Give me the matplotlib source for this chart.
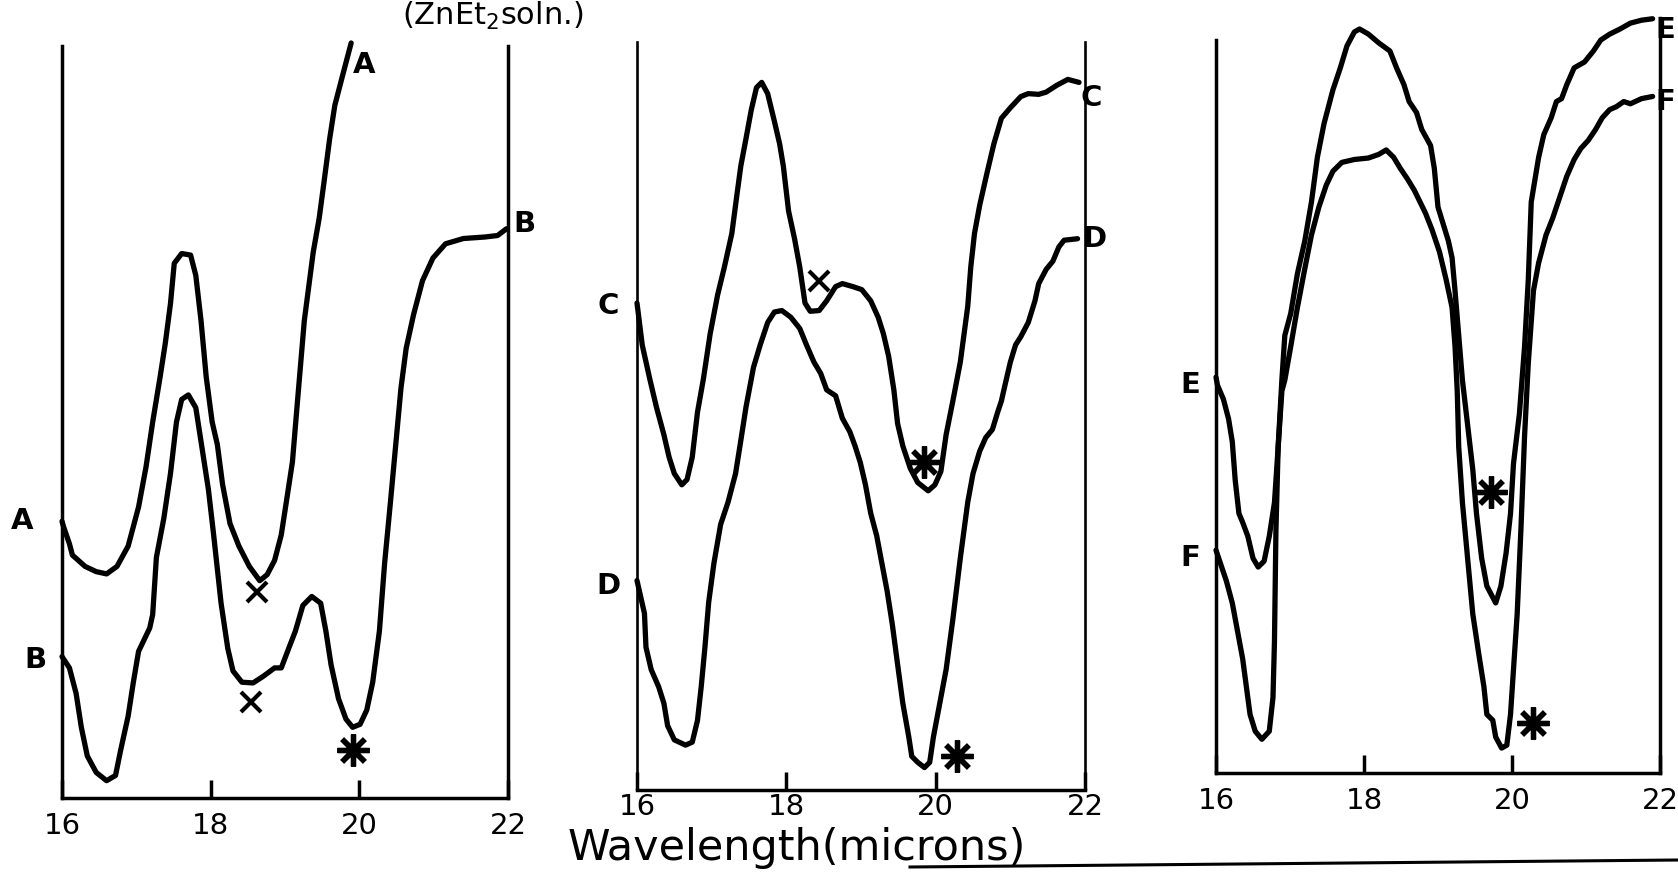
import matplotlib
matplotlib.use("Agg")
import matplotlib.pyplot as plt

# ---------------- data (wavelength in microns, transmission in arbitrary units 0-100) -------------
a_x = [16.0, 16.02, 16.10, 16.14, 16.31, 16.46, 16.60, 16.74, 16.89, 17.03, 17.13, 17.22, 17.32, 17.39,
       17.46, 17.51, 17.61, 17.73, 17.80, 17.87, 17.94, 18.02, 18.09, 18.16, 18.26, 18.38, 18.52, 18.66,
       18.76, 18.86, 18.95, 19.02, 19.10, 19.17, 19.26, 19.38, 19.46, 19.53, 19.60, 19.67, 19.77, 19.89]
a_y = [36.8, 36.1, 33.8, 32.3, 30.8, 30.1, 29.8, 30.8, 33.5, 38.7, 44.0, 50.0, 56.0, 60.5,
       65.8, 71.1, 72.4, 72.2, 69.5, 63.5, 56.0, 50.0, 47.0, 41.7, 36.5, 33.5, 30.8, 28.9,
       29.7, 31.6, 35.0, 39.5, 44.7, 53.0, 63.5, 72.6, 77.1, 82.3, 87.6, 92.1, 95.9, 100.4]

b_x = [16.0, 16.10, 16.19, 16.26, 16.34, 16.46, 16.60, 16.72, 16.79, 16.89, 16.96, 17.03, 17.18, 17.22,
       17.27, 17.37, 17.46, 17.54, 17.61, 17.70, 17.80, 17.90, 17.97, 18.04, 18.14, 18.23, 18.30, 18.42,
       18.57, 18.71, 18.86, 18.95, 19.05, 19.14, 19.24, 19.36, 19.48, 19.55, 19.62, 19.72, 19.82, 19.91,
       20.01, 20.10, 20.18, 20.27, 20.34, 20.42, 20.49, 20.56, 20.63, 20.73, 20.85, 20.99, 21.16, 21.40,
       21.69, 21.86, 21.98]
b_y = [18.8, 17.3, 13.9, 9.4, 5.6, 3.4, 2.3, 3.0, 6.4, 10.9, 15.4, 19.5, 22.6, 24.4,
       32.0, 37.2, 43.2, 50.0, 53.0, 53.6, 51.9, 45.5, 41.0, 35.0, 25.9, 19.9, 16.9, 15.4,
       15.3, 16.2, 17.3, 17.3, 19.9, 22.2, 25.6, 26.8, 25.9, 22.2, 17.7, 13.2, 10.5, 9.4,
       9.8, 11.7, 15.4, 22.2, 31.2, 39.5, 47.0, 54.5, 59.8, 64.3, 68.8, 71.8, 73.7, 74.4,
       74.6, 74.8, 75.7]

c_x = [16.0, 16.07, 16.17, 16.26, 16.36, 16.43, 16.50, 16.60, 16.67, 16.74, 16.81, 16.89, 16.98, 17.08,
       17.17, 17.27, 17.34, 17.39, 17.46, 17.53, 17.60, 17.67, 17.75, 17.84, 17.91, 17.96, 18.03, 18.11,
       18.18, 18.25, 18.32, 18.44, 18.54, 18.66, 18.75, 18.89, 19.01, 19.13, 19.23, 19.30, 19.37, 19.44,
       19.49, 19.56, 19.66, 19.76, 19.90, 19.99, 20.07, 20.14, 20.23, 20.33, 20.43, 20.47, 20.52, 20.59,
       20.69, 20.78, 20.88, 21.00, 21.14, 21.24, 21.38, 21.48, 21.62, 21.77, 21.92]
c_y = [65.1, 59.5, 55.0, 51.2, 47.5, 44.5, 42.3, 40.8, 41.5, 44.5, 50.5, 55.0, 61.0, 66.2,
       69.9, 74.4, 79.7, 83.4, 87.1, 90.9, 93.9, 94.6, 93.1, 89.4, 86.4, 83.4, 77.4, 73.7,
       69.9, 65.1, 64.0, 64.1, 65.4, 67.3, 67.7, 67.3, 66.9, 65.4, 63.2, 61.0, 58.0, 53.5,
       49.0, 46.0, 43.0, 41.1, 40.0, 40.8, 42.6, 47.5, 52.0, 57.2, 64.7, 69.9, 74.4, 78.2,
       82.6, 86.4, 89.8, 91.2, 92.7, 93.1, 93.0, 93.3, 94.2, 95.0, 94.6]

d_x = [16.0, 16.05, 16.10, 16.12, 16.19, 16.29, 16.36, 16.41, 16.50, 16.65, 16.74, 16.81, 16.86, 16.91,
       16.96, 17.03, 17.12, 17.22, 17.32, 17.39, 17.46, 17.56, 17.65, 17.75, 17.84, 17.94, 18.06, 18.18,
       18.27, 18.37, 18.46, 18.54, 18.66, 18.75, 18.85, 18.92, 18.99, 19.06, 19.13, 19.21, 19.28, 19.35,
       19.42, 19.49, 19.56, 19.64, 19.68, 19.76, 19.85, 19.92, 19.97, 20.04, 20.14, 20.23, 20.33, 20.43,
       20.50, 20.59, 20.67, 20.76, 20.83, 20.88, 20.93, 21.00, 21.07, 21.14, 21.24, 21.33, 21.38, 21.48,
       21.57, 21.65, 21.72, 21.90]
d_y = [28.0, 25.8, 23.6, 19.1, 16.1, 13.8, 11.6, 8.6, 6.7, 6.0, 6.4, 9.3, 13.8, 19.1,
       25.1, 30.3, 35.5, 38.5, 42.3, 46.7, 51.2, 56.5, 59.5, 62.5, 63.9, 64.1, 63.2, 61.7,
       59.5, 57.2, 55.7, 53.5, 52.7, 49.7, 47.9, 46.0, 43.8, 40.8, 37.0, 34.0, 30.3, 26.6,
       22.1, 16.8, 11.6, 7.1, 4.5, 3.7, 3.0, 3.7, 7.1, 10.8, 16.1, 22.8, 31.0, 38.5,
       42.3, 45.3, 47.1, 48.2, 50.5, 52.0, 54.2, 57.2, 59.5, 60.6, 62.5, 65.4, 67.7, 69.6,
       70.7, 72.6, 73.5, 73.7]

e_x = [16.0, 16.02, 16.10, 16.17, 16.22, 16.26, 16.31, 16.36, 16.43, 16.50, 16.57, 16.65, 16.72, 16.79,
       16.84, 16.89, 16.93, 17.01, 17.10, 17.20, 17.29, 17.37, 17.46, 17.58, 17.68, 17.77, 17.87, 17.94,
       18.06, 18.20, 18.35, 18.44, 18.54, 18.61, 18.71, 18.78, 18.90, 18.95, 19.00, 19.07, 19.14, 19.19,
       19.23, 19.28, 19.33, 19.40, 19.47, 19.52, 19.59, 19.66, 19.78, 19.85, 19.92, 19.98, 20.02, 20.10,
       20.17, 20.22, 20.26, 20.36, 20.43, 20.53, 20.60, 20.67, 20.74, 20.84, 20.98, 21.10, 21.20, 21.32,
       21.46, 21.60, 21.75, 21.90]
e_y = [54.0, 52.9, 51.0, 48.3, 45.2, 39.9, 35.4, 34.2, 32.3, 29.3, 28.1, 28.9, 32.3, 36.9,
       44.5, 53.6, 59.7, 62.7, 68.1, 72.6, 77.9, 84.0, 88.6, 93.2, 96.2, 99.2, 101.1, 101.5,
       100.8, 99.6, 98.5, 96.2, 93.9, 91.6, 90.1, 87.8, 85.6, 82.5, 77.2, 74.9, 72.6, 70.3,
       65.8, 59.7, 53.6, 47.5, 41.4, 35.4, 29.3, 25.5, 23.2, 25.5, 30.0, 35.4, 42.2, 49.0,
       58.2, 67.3, 77.9, 84.0, 87.1, 89.4, 91.6, 92.0, 93.9, 96.2, 97.0, 98.5, 100.0, 100.8,
       101.5, 102.3, 102.7, 102.9]

f_x = [16.0, 16.05, 16.14, 16.22, 16.29, 16.36, 16.41, 16.46, 16.53, 16.62, 16.72, 16.77, 16.79, 16.81,
       16.84, 16.89, 16.93, 17.01, 17.10, 17.20, 17.29, 17.39, 17.49, 17.58, 17.70, 17.87, 18.06, 18.20,
       18.30, 18.40, 18.49, 18.59, 18.68, 18.83, 18.92, 19.02, 19.11, 19.19, 19.23, 19.26, 19.28, 19.33,
       19.40, 19.47, 19.55, 19.62, 19.66, 19.74, 19.78, 19.86, 19.93, 19.98, 20.02, 20.07, 20.12, 20.17,
       20.22, 20.29, 20.36, 20.46, 20.55, 20.65, 20.74, 20.84, 20.93, 21.03, 21.13, 21.22, 21.32, 21.41,
       21.51, 21.60, 21.75, 21.90]
f_y = [30.4, 28.9, 26.2, 23.2, 19.4, 15.6, 11.8, 8.0, 5.7, 4.6, 5.7, 10.3, 17.9, 33.1,
       44.5, 52.1, 53.6, 58.2, 63.5, 68.8, 73.4, 77.2, 80.2, 82.1, 83.3, 83.7, 83.9, 84.4,
       85.0, 84.0, 82.5, 81.0, 79.5, 76.4, 74.1, 71.1, 67.3, 63.5, 58.2, 52.1, 44.5, 36.9,
       29.3, 21.7, 16.3, 11.8, 8.0, 7.2, 4.9, 3.4, 3.8, 8.0, 14.1, 21.7, 33.1, 46.0,
       55.9, 65.8, 69.6, 73.4, 75.7, 78.7, 81.4, 83.7, 85.2, 86.3, 87.8, 89.4, 90.5, 90.9,
       91.6, 91.3, 92.0, 92.3]

# band markers: x = "x"-marked band, s = "*"-marked band
p1_cross_x = [18.62, 18.54]
p1_cross_y = [27.4, 12.8]
p1_star_x = [19.91]
p1_star_y = [6.4]
p2_cross_x = [18.44]
p2_cross_y = [68.1]
p2_star_x = [19.85, 20.28]
p2_star_y = [43.8, 4.5]
p3_star_x = [19.71, 20.29]
p3_star_y = [38.4, 6.8]

tick_values = [16, 18, 20, 22]
tick_labels = ["16", "18", "20", "22"]

# ---------------- figure ----------------
W, H = 1678, 872
fig = plt.figure(figsize=(W / 100, H / 100), dpi=100)
fig.patch.set_facecolor("white")

INK = "black"
FONT = "DejaVu Sans"


def make_axes(x16, x22, ytop, ybot, pad=10):
    ax = fig.add_axes([x16 / W, 1 - ybot / H, (x22 - x16) / W, (ybot - ytop) / H])
    ax.set_xlim(16, 22)
    ax.set_ylim(0, 100)
    ax.set_facecolor("none")
    ax.spines["top"].set_visible(False)
    for s in ("left", "right", "bottom"):
        ax.spines[s].set_linewidth(2.5)
        ax.spines[s].set_color(INK)
    ax.set_yticks([])
    ax.set_xticks(tick_values)
    ax.set_xticklabels(tick_labels, fontsize=21, family=FONT)
    ax.tick_params(axis="x", direction="in", length=13, width=2.5, pad=pad, colors=INK)
    return ax


def curve(ax, x, y):
    ax.plot(x, y, color=INK, lw=3.8, solid_capstyle="round", solid_joinstyle="round", clip_on=False)


def stars(ax, x, y):
    ax.plot(x, y, linestyle="none", marker=(8, 2, 0), markersize=23, markeredgewidth=3.8,
            color=INK, clip_on=False)


def crosses(ax, x, y):
    ax.plot(x, y, linestyle="none", marker="x", markersize=14, markeredgewidth=3,
            color=INK, clip_on=False)


def label(ax, x, y, s):
    ax.text(x, y, s, fontsize=21, fontweight="bold", family=FONT, ha="center", va="center",
            color=INK, clip_on=False)


# Panel 1
ax1 = make_axes(62, 508, 46, 798, pad=10)
curve(ax1, a_x, a_y)
curve(ax1, b_x, b_y)
crosses(ax1, p1_cross_x, p1_cross_y)
stars(ax1, p1_star_x, p1_star_y)
label(ax1, 15.47, 36.8, "A")
label(ax1, 15.64, 18.4, "B")
label(ax1, 20.06, 97.5, "A")
label(ax1, 22.22, 76.3, "B")
ax1.text(21.8, 104.0, r"(ZnEt$_2$soln.)", fontsize=22, family=FONT, ha="center", va="center",
         color=INK, clip_on=False)

# Panel 2
ax2 = make_axes(637, 1085, 42, 790, pad=2)
ax2.spines["left"].set_linewidth(1.9)
ax2.spines["right"].set_linewidth(1.9)
curve(ax2, c_x, c_y)
curve(ax2, d_x, d_y)
crosses(ax2, p2_cross_x, p2_cross_y)
stars(ax2, p2_star_x, p2_star_y)
label(ax2, 15.62, 64.7, "C")
label(ax2, 15.62, 27.3, "D")
label(ax2, 22.08, 92.5, "C")
label(ax2, 22.12, 73.7, "D")

# Panel 3
ax3 = make_axes(1216, 1660, 40, 773, pad=10)
ax3.spines["right"].set_bounds(0, 103)
curve(ax3, e_x, e_y)
curve(ax3, f_x, f_y)
stars(ax3, p3_star_x, p3_star_y)
label(ax3, 15.65, 52.9, "E")
label(ax3, 15.65, 29.3, "F")
label(ax3, 22.07, 101.3, "E")
label(ax3, 22.07, 91.6, "F")

# common x-axis title and baseline rule
fig.text(797 / W, 1 - 860 / H, "Wavelength(microns)", fontsize=31, family=FONT,
         ha="center", va="baseline", color=INK)
fig.add_artist(plt.Line2D([910 / W, 1.0], [1 - 867 / H, 1 - 860 / H], color=INK, lw=2.2,
                          transform=fig.transFigure))

fig.savefig("out.png", dpi=100, facecolor="white")
